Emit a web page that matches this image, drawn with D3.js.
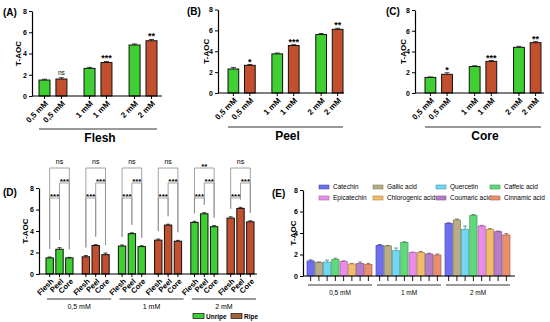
<!DOCTYPE html>
<html>
<head>
<meta charset="utf-8">
<script src="https://cdn.jsdelivr.net/npm/d3@7"></script>
<style>
  html, body { margin: 0; padding: 0; background: #fff; }
</style>
</head>
<body>
<div id="chart"></div>
<script>
// concentrations, maturity stages and fruit parts
var concs = ['0,5 mM', '1 mM', '2 mM'],
  maturity = ['Unripe', 'Ripe'],
  parts = ['Flesh', 'Peel', 'Core'];

// T-AOC means (one value per concentration)
var fleshUnripe = [1.5, 2.6, 4.8],
  fleshRipe = [1.6, 3.15, 5.2],
  peelUnripe = [2.3, 3.75, 5.6],
  peelRipe = [2.65, 4.55, 6.1],
  coreUnripe = [1.5, 2.55, 4.4],
  coreRipe = [1.8, 3.05, 4.85];

// standard errors
var fleshUnripeErr = [0.08, 0.1, 0.1],
  fleshRipeErr = [0.12, 0.1, 0.12],
  peelUnripeErr = [0.15, 0.08, 0.1],
  peelRipeErr = [0.08, 0.08, 0.1],
  coreUnripeErr = [0.05, 0.08, 0.1],
  coreRipeErr = [0.15, 0.08, 0.1];

// unripe vs ripe significance, panels A-C
var sigFlesh = ['ns', '***', '**'],
  sigPeel = ['*', '***', '**'],
  sigCore = ['*', '***', '**'];

// panel D brackets, one per concentration/maturity group
var sigFleshCore = ['ns', 'ns', 'ns', 'ns', '**', 'ns'],
  sigPeelCore = ['***', '***', '***', '***', '***', '***'],
  sigFleshPeel = ['***', '***', '***', '***', '***', '***'];

// panel E: standards
var compounds = ['Catechin', 'Gallic acid', 'Quercetin', 'Caffeic acid',
  'Epicatechin', 'Chlorogenic acid', 'Coumaric acid', 'Cinnamic acid'];
var std05 = [1.4, 1.25, 1.3, 1.55, 1.35, 1.12, 1.15, 1.08],
  std1 = [2.85, 2.8, 2.35, 3.12, 2.17, 2.2, 2.05, 1.95],
  std2 = [4.9, 5.22, 4.35, 5.62, 4.65, 4.35, 4.12, 3.82];
var std05Err = [0.1, 0.06, 0.18, 0.1, 0.06, 0.06, 0.15, 0.1],
  std1Err = [0.08, 0.05, 0.25, 0.06, 0.05, 0.08, 0.06, 0.1],
  std2Err = [0.05, 0.08, 0.3, 0.1, 0.06, 0.06, 0.06, 0.12];
var yTicks = [0, 2, 4, 6, 8];

var font = '"Liberation Sans", Arial, sans-serif',
  green = '#3fcf33',
  ripeCol = '#c24f2e',
  matColor = {Unripe: green, Ripe: ripeCol},
  compColors = ['#6e6ef0', '#b7ae85', '#6fd8f2', '#5fd97a',
    '#e98de9', '#f3bc6a', '#b77cc9', '#e98f6e'];

var svg = d3.select('#chart').append('svg')
  .attr('width', 550)
  .attr('height', 322)
  .style('font-family', font);

svg.append('rect').attr('width', 550).attr('height', 322).attr('fill', '#fff');

function drawYAxis(x, y, labelX) {
  var g = svg.append('g')
    .attr('transform', 'translate(' + x + ',0)')
    .call(d3.axisLeft(y).tickValues(yTicks).tickSize(3).tickSizeOuter(0).tickPadding(2));
  g.select('.domain').attr('stroke', '#000').attr('stroke-width', 1.2);
  g.selectAll('.tick line').attr('stroke', '#000');
  g.selectAll('.tick text')
    .attr('font-size', 7)
    .attr('font-weight', 'bold')
    .attr('font-family', font)
    .attr('fill', '#000');
  var r = y.range();
  svg.append('text')
    .attr('transform', 'translate(' + labelX + ',' + ((r[0] + r[1]) / 2) + ') rotate(-90)')
    .attr('text-anchor', 'middle')
    .attr('dy', '0.35em')
    .attr('font-size', 8)
    .attr('font-weight', 'bold')
    .text('T-AOC');
}

function xAxisLine(x0, x1, y0) {
  svg.append('line')
    .attr('x1', x0).attr('x2', x1)
    .attr('y1', y0).attr('y2', y0)
    .attr('stroke', '#000').attr('stroke-width', 1.2);
}

function panelTag(txt, x, y) {
  svg.append('text')
    .attr('x', x).attr('y', y)
    .attr('font-size', 10)
    .attr('font-weight', 'bold')
    .text(txt);
}

function errorBar(x, y, v, e, w, color) {
  svg.append('line')
    .attr('x1', x).attr('x2', x)
    .attr('y1', y(v)).attr('y2', y(v + e))
    .attr('stroke', color).attr('stroke-width', 0.8);
  svg.append('line')
    .attr('x1', x - w / 2).attr('x2', x + w / 2)
    .attr('y1', y(v + e)).attr('y2', y(v + e))
    .attr('stroke', color).attr('stroke-width', 0.8);
}

function sigText(txt, x, y) {
  var isNs = txt === 'ns';
  svg.append('text')
    .attr('x', x)
    .attr('y', isNs ? y : y + 3)
    .attr('text-anchor', 'middle')
    .attr('font-size', isNs ? 6.5 : 9)
    .attr('font-weight', isNs ? 'normal' : 'bold')
    .text(txt);
}

// ---------- panels A, B, C ----------
var panelsABC = [
  {tag: '(A)', tagPos: [3, 16], part: 'Flesh', axisX: 32, axisEnd: 162, bars: [39, 157], yr: [96, 11], labelX: 18,
    unripe: fleshUnripe, ripe: fleshRipe, unripeErr: fleshUnripeErr, ripeErr: fleshRipeErr, sig: sigFlesh, lineY: 129},
  {tag: '(B)', tagPos: [187, 15], part: 'Peel', axisX: 218, axisEnd: 344, bars: [228, 343], yr: [93, 9.5], labelX: 206,
    unripe: peelUnripe, ripe: peelRipe, unripeErr: peelUnripeErr, ripeErr: peelRipeErr, sig: sigPeel, lineY: 127},
  {tag: '(C)', tagPos: [386, 15], part: 'Core', axisX: 415, axisEnd: 544, bars: [425, 541], yr: [93, 10], labelX: 403,
    unripe: coreUnripe, ripe: coreRipe, unripeErr: coreUnripeErr, ripeErr: coreRipeErr, sig: sigCore, lineY: 127}
];

panelsABC.forEach(function (p) {
  var y = d3.scaleLinear().domain([0, 8]).range(p.yr),
    xg = d3.scaleBand().domain(concs).range(p.bars).paddingInner(0.38),
    xm = d3.scaleBand().domain(maturity).range([0, xg.bandwidth()]).paddingInner(0.35);

  var data = [];
  concs.forEach(function (c, i) {
    data.push({conc: c, mat: 'Unripe', v: p.unripe[i], e: p.unripeErr[i], sig: null});
    data.push({conc: c, mat: 'Ripe', v: p.ripe[i], e: p.ripeErr[i], sig: p.sig[i]});
  });

  panelTag(p.tag, p.tagPos[0], p.tagPos[1]);

  svg.selectAll(null)
    .data(data)
    .enter()
    .append('rect')
    .attr('x', function (d) { return xg(d.conc) + xm(d.mat); })
    .attr('y', function (d) { return y(d.v); })
    .attr('width', xm.bandwidth())
    .attr('height', function (d) { return y(0) - y(d.v); })
    .attr('fill', function (d) { return matColor[d.mat]; })
    .attr('stroke', '#111')
    .attr('stroke-width', 1);

  data.forEach(function (d) {
    var cx = xg(d.conc) + xm(d.mat) + xm.bandwidth() / 2;
    errorBar(cx, y, d.v, d.e, 5, '#111');
    if (d.sig) {
      sigText(d.sig, cx, y(d.v + d.e) - 3);
    }
    svg.append('line')
      .attr('x1', cx).attr('x2', cx)
      .attr('y1', p.yr[0]).attr('y2', p.yr[0] + 3)
      .attr('stroke', '#000');
    svg.append('text')
      .attr('transform', 'translate(' + (cx + 2) + ',' + (p.yr[0] + 6) + ') rotate(-45)')
      .attr('text-anchor', 'end')
      .attr('dy', '0.35em')
      .attr('font-size', 8)
      .attr('font-weight', 'bold')
      .text(d.conc);
  });

  drawYAxis(p.axisX, y, p.labelX);
  xAxisLine(p.axisX, p.axisEnd, p.yr[0]);

  svg.append('line')
    .attr('x1', p.bars[0]).attr('x2', p.bars[1])
    .attr('y1', p.lineY).attr('y2', p.lineY)
    .attr('stroke', '#000').attr('stroke-width', 0.8);
  svg.append('text')
    .attr('x', (p.bars[0] + p.bars[1]) / 2 + 2)
    .attr('y', p.lineY + 13)
    .attr('text-anchor', 'middle')
    .attr('font-size', 12)
    .attr('font-weight', 'bold')
    .text(p.part);
});

// ---------- panel D ----------
(function () {
  var y = d3.scaleLinear().domain([0, 8]).range([274, 188]),
    groups = [];
  concs.forEach(function (c) {
    maturity.forEach(function (m) { groups.push(c + '|' + m); });
  });
  var xg = d3.scaleBand().domain(groups).range([46, 254]).paddingInner(0.254),
    xp = d3.scaleBand().domain(parts).range([0, xg.bandwidth()]).paddingInner(0.25);

  var vals = {
    Flesh: {Unripe: fleshUnripe, Ripe: fleshRipe},
    Peel: {Unripe: peelUnripe, Ripe: peelRipe},
    Core: {Unripe: coreUnripe, Ripe: coreRipe}
  };
  var errs = {
    Flesh: {Unripe: fleshUnripeErr, Ripe: fleshRipeErr},
    Peel: {Unripe: peelUnripeErr, Ripe: peelRipeErr},
    Core: {Unripe: coreUnripeErr, Ripe: coreRipeErr}
  };

  var data = [];
  groups.forEach(function (g, gi) {
    var ci = Math.floor(gi / 2), m = maturity[gi % 2];
    parts.forEach(function (pt) {
      data.push({group: g, gi: gi, mat: m, part: pt, v: vals[pt][m][ci], e: errs[pt][m][ci]});
    });
  });

  panelTag('(D)', 3, 196);

  svg.selectAll(null)
    .data(data)
    .enter()
    .append('rect')
    .attr('x', function (d) { return xg(d.group) + xp(d.part); })
    .attr('y', function (d) { return y(d.v); })
    .attr('width', xp.bandwidth())
    .attr('height', function (d) { return y(0) - y(d.v); })
    .attr('fill', function (d) { return matColor[d.mat]; })
    .attr('stroke', '#111')
    .attr('stroke-width', 1);

  function cx(d) { return xg(d.group) + xp(d.part) + xp.bandwidth() / 2; }

  data.forEach(function (d) {
    errorBar(cx(d), y, d.v, d.e, 4, '#111');
    svg.append('line')
      .attr('x1', cx(d)).attr('x2', cx(d))
      .attr('y1', 274).attr('y2', 277)
      .attr('stroke', '#000');
    svg.append('text')
      .attr('transform', 'translate(' + (cx(d) + 2.5) + ',' + 280 + ') rotate(-45)')
      .attr('text-anchor', 'end')
      .attr('dy', '0.35em')
      .attr('font-size', 7.5)
      .attr('font-weight', 'bold')
      .text(d.part);
  });

  // comparison brackets
  var levels = [
    {a: 'Flesh', b: 'Core', yl: 168, sig: sigFleshCore},
    {a: 'Peel', b: 'Core', yl: 183, sig: sigPeelCore},
    {a: 'Flesh', b: 'Peel', yl: 198, sig: sigFleshPeel}
  ];
  groups.forEach(function (g, gi) {
    var byPart = {};
    data.filter(function (d) { return d.gi === gi; }).forEach(function (d) { byPart[d.part] = d; });
    levels.forEach(function (l) {
      var da = byPart[l.a], db = byPart[l.b];
      svg.append('path')
        .attr('d', 'M' + cx(da) + ',' + (y(da.v + da.e) - 8) + 'V' + l.yl +
          'H' + cx(db) + 'V' + (y(db.v + db.e) - 8))
        .attr('fill', 'none')
        .attr('stroke', '#8a8a8a')
        .attr('stroke-width', 0.8);
      var s = l.sig[gi], isNs = s === 'ns';
      svg.append('text')
        .attr('x', (cx(da) + cx(db)) / 2)
        .attr('y', isNs ? l.yl - 4 : l.yl + 1)
        .attr('text-anchor', 'middle')
        .attr('font-size', isNs ? 7 : 8)
        .attr('font-weight', isNs ? 'normal' : 'bold')
        .text(s);
    });
  });

  drawYAxis(39, y, 25);
  xAxisLine(39, 257, 274);

  concs.forEach(function (c) {
    var xa = xg(c + '|Unripe') + 1,
      xb = xg(c + '|Ripe') + xg.bandwidth() + 2;
    svg.append('line')
      .attr('x1', xa).attr('x2', xb)
      .attr('y1', 299).attr('y2', 299)
      .attr('stroke', '#000').attr('stroke-width', 0.8);
    svg.append('text')
      .attr('x', (xa + xb) / 2)
      .attr('y', 309)
      .attr('text-anchor', 'middle')
      .attr('font-size', 7)
      .text(c);
  });

  // legend
  var legX = [193, 231];
  maturity.forEach(function (m, i) {
    svg.append('rect')
      .attr('x', legX[i]).attr('y', 313.5)
      .attr('width', 11).attr('height', 5)
      .attr('fill', m === 'Ripe' ? '#a5623a' : green)
      .attr('stroke', '#111').attr('stroke-width', 0.7);
    svg.append('text')
      .attr('x', legX[i] + 13).attr('y', 318.5)
      .attr('font-size', 6.5)
      .attr('font-weight', 'bold')
      .text(m);
  });
})();

// ---------- panel E ----------
(function () {
  var y = d3.scaleLinear().domain([0, 8]).range([276, 190]),
    xg = d3.scaleBand().domain(concs).range([307, 510]).paddingInner(0.058),
    xc = d3.scaleBand().domain(compounds).range([0, xg.bandwidth()]).paddingInner(0.12),
    color = d3.scaleOrdinal().domain(compounds).range(compColors);

  var series = [std05, std1, std2],
    seriesErr = [std05Err, std1Err, std2Err],
    data = [];
  concs.forEach(function (c, i) {
    compounds.forEach(function (cp, j) {
      data.push({conc: c, comp: cp, v: series[i][j], e: seriesErr[i][j]});
    });
  });

  panelTag('(E)', 272, 197);

  svg.selectAll(null)
    .data(data)
    .enter()
    .append('rect')
    .attr('x', function (d) { return xg(d.conc) + xc(d.comp); })
    .attr('y', function (d) { return y(d.v); })
    .attr('width', xc.bandwidth())
    .attr('height', function (d) { return y(0) - y(d.v); })
    .attr('fill', function (d) { return color(d.comp); })
    .attr('stroke', function (d) { return d3.color(color(d.comp)).darker(1); })
    .attr('stroke-width', 0.7);

  data.forEach(function (d) {
    var x = xg(d.conc) + xc(d.comp) + xc.bandwidth() / 2;
    errorBar(x, y, d.v, d.e, 4, d3.color(color(d.comp)).darker(1.5));
    svg.append('line')
      .attr('x1', x).attr('x2', x)
      .attr('y1', 276).attr('y2', 281)
      .attr('stroke', '#000').attr('stroke-width', 0.9);
  });

  drawYAxis(303, y, 293);
  xAxisLine(303, 515, 276);

  concs.forEach(function (c) {
    var xa = xg(c) + 1, xb = xg(c) + xg.bandwidth();
    svg.append('line')
      .attr('x1', xa).attr('x2', xb)
      .attr('y1', 285).attr('y2', 285)
      .attr('stroke', '#000').attr('stroke-width', 0.8);
    svg.append('text')
      .attr('x', (xa + xb) / 2)
      .attr('y', 295)
      .attr('text-anchor', 'middle')
      .attr('font-size', 6.5)
      .text(c);
  });

  // legend, two rows of four
  var colX = [319, 373, 436, 490], rowY = [187, 198];
  compounds.forEach(function (cp, j) {
    var lx = colX[j % 4], ly = rowY[Math.floor(j / 4)];
    svg.append('rect')
      .attr('x', lx).attr('y', ly - 2)
      .attr('width', 10).attr('height', 4)
      .attr('fill', color(cp))
      .attr('stroke', d3.color(color(cp)).darker(1))
      .attr('stroke-width', 0.6);
    svg.append('text')
      .attr('x', lx + 14).attr('y', ly + 2.3)
      .attr('font-size', 6.5)
      .text(cp);
  });
})();
</script>
</body>
</html>
